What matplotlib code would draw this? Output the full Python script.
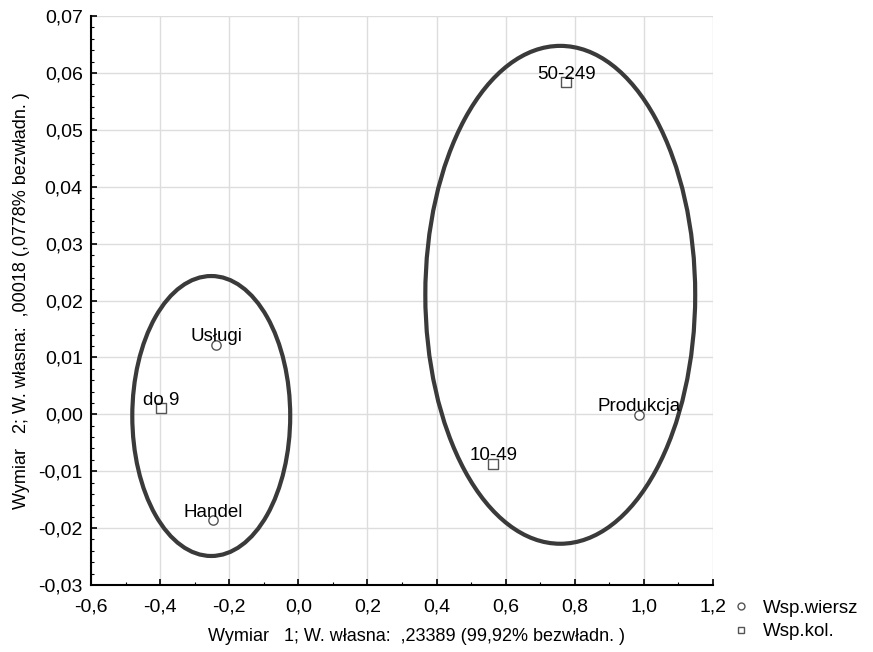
import matplotlib.pyplot as plt
from matplotlib.patches import Ellipse
from matplotlib.ticker import MultipleLocator, FuncFormatter
from matplotlib.lines import Line2D

plt.rcParams['font.family'] = ['Liberation Sans', 'DejaVu Sans']

# Współrzędne wierszy (sektory)
row_names = ["Usługi", "Handel", "Produkcja"]
row_x = [-0.237, -0.246, 0.987]
row_y = [0.0122, -0.0186, -0.0001]

# Współrzędne kolumn (wielkość firmy)
col_names = ["do 9", "10-49", "50-249"]
col_x = [-0.396, 0.564, 0.775]
col_y = [0.0011, -0.0087, 0.0584]

# Elipsy grupujące: (środek x, środek y, szerokość, wysokość)
groups_cx = [-0.252, 0.758]
groups_cy = [-0.0003, 0.0210]
groups_w = [0.457, 0.781]
groups_h = [0.0492, 0.0875]

fig = plt.figure(figsize=(8.73, 6.52), dpi=100)
ax = fig.add_axes([91 / 873, 1 - 585 / 652, 622 / 873, 569 / 652])

ax.set_xlim(-0.6, 1.2)
ax.set_ylim(-0.03, 0.07)
ax.xaxis.set_major_locator(MultipleLocator(0.2))
ax.xaxis.set_minor_locator(MultipleLocator(0.1))
ax.yaxis.set_major_locator(MultipleLocator(0.01))
ax.yaxis.set_minor_locator(MultipleLocator(0.002))
ax.xaxis.set_major_formatter(FuncFormatter(lambda v, p: f"{v:.1f}".replace(".", ",").replace("-0,0", "0,0")))
ax.yaxis.set_major_formatter(FuncFormatter(lambda v, p: f"{v:.2f}".replace(".", ",").replace("-0,00", "0,00")))
ax.tick_params(which="both", direction="in", labelsize=14, color="black")
ax.tick_params(which="major", length=4, width=1.2)
ax.tick_params(which="minor", length=2.5, width=0.8)
ax.tick_params(axis="x", pad=10)
ax.tick_params(axis="y", pad=6)
ax.grid(True, which="major", color="#dddddd", linewidth=1)
ax.set_axisbelow(True)
for s in ["top", "right"]:
    ax.spines[s].set_visible(False)
for s in ["left", "bottom"]:
    ax.spines[s].set_linewidth(1.5)

for cx, cy, w, h in zip(groups_cx, groups_cy, groups_w, groups_h):
    ax.add_patch(Ellipse((cx, cy), w, h, fill=False, edgecolor="#3a3a3a", linewidth=3, zorder=2))

ax.scatter(row_x, row_y, marker="o", s=45, facecolors="white", edgecolors="#555555", linewidths=1, zorder=3)
ax.scatter(col_x, col_y, marker="s", s=45, facecolors="white", edgecolors="#555555", linewidths=1, zorder=3)

for name, x, y in zip(row_names + col_names, row_x + col_x, row_y + col_y):
    ax.annotate(name, (x, y), xytext=(0, 2.5), textcoords="offset points",
                ha="center", va="baseline", fontsize=13.5, zorder=4)

ax.set_xlabel("Wymiar   1; W. własna:  ,23389 (99,92% bezwładn. )", fontsize=13)
ax.xaxis.set_label_coords(0.524, -0.075)
ax.set_ylabel("Wymiar   2; W. własna:  ,00018 (,0778% bezwładn. )", fontsize=13, labelpad=6)

handles = [
    Line2D([], [], marker="o", linestyle="none", markersize=5, markerfacecolor="white", markeredgecolor="#555555"),
    Line2D([], [], marker="s", linestyle="none", markersize=5, markerfacecolor="white", markeredgecolor="#555555"),
]
fig.legend(handles, ["Wsp.wiersz", "Wsp.kol."], loc="center left", bbox_to_anchor=(710 / 873, 1 - 620 / 652),
           frameon=False, fontsize=13.5, handletextpad=0.4, labelspacing=0.35, handlelength=1.5)

plt.savefig("out.png", dpi=100)
